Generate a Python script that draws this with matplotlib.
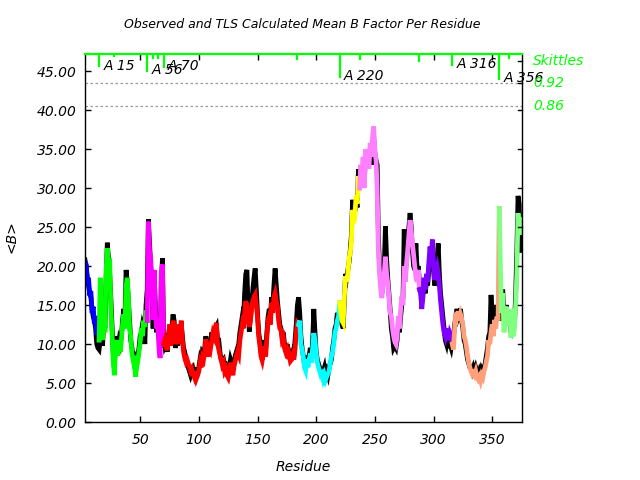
import numpy as np
import matplotlib
matplotlib.use("Agg")
import matplotlib.pyplot as plt
import matplotlib.transforms as mtransforms

# residues 3..374
res_first = 3
res_last = 374

# TLS calculated mean B per residue (coloured line)
tls_b = [
    20.5, 20.2, 18.0, 18.5, 16.2, 16.8, 14.0, 14.8, 12.6, 13.6,
    11.2, 12.0, 10.5, 18.5, 13.0, 10.5, 14.0, 11.5, 19.5, 22.3,
    20.0, 21.0, 15.0, 11.5, 8.0, 6.0, 9.5, 10.5, 8.5, 10.2,
    9.0, 10.5, 12.5, 13.8, 12.0, 17.4, 18.5, 16.0, 12.0, 11.0,
    8.8, 8.0, 8.5, 5.8, 7.0, 7.8, 9.0, 10.2, 12.0, 11.0,
    13.0, 12.2, 14.3, 13.0, 25.7, 22.0, 21.0, 17.0, 13.1, 19.5,
    14.0, 12.0, 12.8, 9.5, 8.2, 19.0, 20.2, 10.0, 10.5, 9.8,
    9.2, 10.3, 12.5, 9.8, 11.0, 13.0, 12.0, 10.0, 11.2, 10.0,
    12.5, 11.0, 13.0, 10.5, 9.0, 8.2, 7.7, 8.0, 7.5, 7.0,
    6.5, 6.8, 6.2, 5.8, 6.5, 5.6, 6.0, 6.5, 7.5, 7.0,
    8.3, 8.0, 9.0, 10.6, 9.8, 8.4, 10.0, 9.5, 10.5, 11.4,
    11.0, 12.2, 12.7, 10.0, 9.3, 8.6, 8.0, 7.3, 7.6, 6.5,
    6.8, 6.0, 5.7, 6.5, 7.6, 6.8, 6.0, 7.1, 7.8, 8.5,
    9.0, 8.6, 10.5, 11.5, 12.5, 12.0, 14.0, 15.5, 15.0, 13.5,
    12.2, 13.0, 14.5, 15.5, 16.0, 16.3, 15.0, 13.5, 11.0, 9.8,
    8.4, 7.9, 8.8, 9.7, 8.4, 11.0, 13.0, 13.5, 12.5, 15.3,
    14.0, 16.0, 16.5, 15.5, 14.8, 13.0, 12.0, 11.8, 10.5, 10.8,
    9.5, 9.0, 9.3, 8.1, 8.6, 7.8, 8.0, 8.5, 8.0, 9.3,
    11.4, 12.7, 12.5, 13.0, 10.0, 9.3, 8.4, 7.0, 6.6, 8.0,
    7.0, 8.0, 8.8, 7.6, 9.5, 11.4, 10.5, 8.8, 7.6, 7.0,
    6.5, 6.0, 6.2, 5.5, 6.0, 5.4, 5.8, 6.2, 6.5, 7.6,
    8.4, 9.0, 10.1, 11.5, 12.0, 13.0, 13.5, 15.3, 14.0, 13.0,
    12.7, 16.0, 18.7, 18.0, 19.0, 21.0, 21.7, 23.0, 27.2, 25.5,
    26.5, 29.0, 28.0, 31.5, 30.0, 33.0, 32.0, 34.0, 30.0, 35.0,
    33.0, 34.0, 32.5, 35.8, 34.0, 36.5, 37.9, 35.0, 33.6, 29.8,
    22.1, 19.1, 17.0, 15.9, 17.5, 19.0, 21.2, 19.0, 17.8, 16.0,
    14.0, 13.6, 12.0, 11.0, 10.3, 10.0, 11.0, 13.6, 12.0, 14.5,
    16.1, 15.0, 20.0, 18.0, 20.3, 22.0, 24.0, 25.9, 24.5, 23.0,
    21.5, 20.0, 18.5, 18.0, 19.5, 17.0, 16.5, 14.5, 16.0, 18.5,
    17.0, 19.0, 18.0, 20.5, 22.5, 21.0, 23.4, 20.0, 18.2, 19.5,
    20.0, 19.0, 17.5, 15.5, 14.0, 12.5, 11.5, 11.0, 12.0, 11.4,
    10.5, 11.4, 11.0, 10.0, 9.3, 12.0, 14.0, 13.5, 14.2, 13.0,
    13.8, 13.3, 12.5, 11.0, 10.5, 9.7, 8.5, 7.6, 7.0, 6.5,
    6.1, 6.3, 6.0, 6.5, 5.8, 5.5, 5.8, 5.3, 6.0, 5.7,
    6.5, 7.0, 7.8, 8.5, 10.5, 10.0, 11.5, 12.5, 11.0, 13.1,
    12.0, 13.5, 13.0, 27.4, 20.0, 14.0, 16.5, 11.5, 12.5, 14.8,
    13.0, 12.5, 14.0, 10.8, 14.5, 11.0, 12.0, 15.0, 19.0, 26.8,
    24.0, 26.0,
]

# observed mean B per residue (black line)
obs_b = [
    20.8, 20.0, 18.5, 17.5, 16.5, 16.0, 14.5, 13.5, 13.0, 12.0,
    10.0, 9.5, 9.3, 10.5, 12.0, 9.8, 13.0, 12.0, 18.5, 23.0,
    21.0, 19.0, 16.0, 12.5, 9.0, 7.0, 10.0, 11.0, 9.5, 10.5,
    10.0, 11.0, 13.0, 14.5, 13.0, 19.5, 18.0, 15.5, 13.0, 10.5,
    9.5, 8.5, 9.0, 6.5, 7.5, 8.5, 9.5, 11.0, 11.5, 12.5,
    12.0, 10.0, 15.0, 17.0, 26.0, 23.0, 20.0, 18.0, 12.0, 18.5,
    15.0, 11.5, 13.5, 11.0, 9.5, 18.0, 21.0, 11.0, 9.8, 10.2,
    9.0, 11.0, 12.0, 10.5, 12.0, 13.8, 13.0, 9.5, 10.5, 9.8,
    11.8, 10.0, 12.5, 11.0, 9.5, 9.0, 8.0, 7.5, 7.0, 6.5,
    6.0, 6.5, 6.8, 6.0, 7.0, 6.0, 6.5, 7.0, 8.0, 7.5,
    9.0, 8.8, 9.5, 11.0, 10.0, 9.0, 10.5, 10.0, 11.5, 11.0,
    11.5, 12.0, 12.3, 10.5, 10.5, 9.0, 8.0, 7.8, 8.0, 7.0,
    7.2, 6.5, 6.2, 7.0, 8.0, 7.5, 6.8, 7.5, 8.5, 9.0,
    9.5, 10.0, 11.5, 12.5, 13.5, 13.0, 16.5, 19.0, 19.5, 14.5,
    11.6, 13.5, 15.0, 17.0, 18.5, 19.7, 17.0, 14.0, 11.5, 10.5,
    9.0, 8.8, 9.5, 10.5, 9.5, 11.5, 13.5, 14.5, 13.5, 16.0,
    15.0, 17.5, 19.7, 17.5, 15.5, 14.0, 12.5, 12.0, 11.0, 11.5,
    10.0, 9.0, 10.0, 8.5, 9.0, 8.5, 8.5, 9.0, 8.5, 10.5,
    12.5, 15.0, 16.0, 14.0, 11.0, 9.5, 8.5, 7.5, 7.0, 8.5,
    7.5, 8.5, 9.5, 8.0, 10.5, 14.5, 11.5, 9.0, 8.0, 7.5,
    7.0, 6.5, 6.5, 6.5, 7.0, 6.0, 6.5, 6.0, 7.0, 7.5,
    8.0, 9.5, 10.5, 12.0, 12.5, 14.0, 13.0, 14.5, 13.5, 12.5,
    12.0, 15.5, 19.0, 18.5, 19.5, 20.5, 22.0, 24.0, 28.5, 26.0,
    27.0, 28.0, 27.5, 32.4, 31.0, 32.5, 31.5, 33.0, 30.5, 34.5,
    32.5, 33.5, 33.0, 34.5, 33.0, 35.0, 36.5, 34.5, 33.6, 33.0,
    24.0, 20.0, 18.0, 16.5, 18.5, 20.0, 25.1, 21.0, 18.5, 16.5,
    14.5, 12.0, 11.0, 9.5, 9.8, 9.5, 10.5, 12.5, 11.5, 13.5,
    15.0, 16.0, 24.7, 19.0, 21.0, 23.0, 25.0, 26.8, 25.0, 22.0,
    20.0, 19.5, 22.9, 19.5, 20.0, 18.0, 17.0, 15.5, 16.5, 17.5,
    16.5, 18.0, 17.5, 19.5, 21.0, 20.0, 22.0, 19.5, 17.5, 18.5,
    21.0, 22.9, 19.0, 16.5, 15.0, 13.5, 12.0, 10.5, 10.0, 11.0,
    9.5, 10.0, 9.5, 10.5, 11.0, 12.5, 13.5, 14.5, 13.5, 14.0,
    14.5, 13.0, 12.0, 10.5, 10.0, 9.0, 8.0, 7.5, 7.0, 7.0,
    6.5, 7.0, 6.5, 7.0, 6.5, 6.0, 6.5, 6.0, 6.8, 6.5,
    7.0, 7.5, 8.5, 9.5, 11.0, 11.5, 16.3, 13.5, 12.0, 14.0,
    15.0, 14.0, 14.5, 13.0, 15.0, 16.5, 17.0, 13.5, 14.0, 15.0,
    13.5, 13.0, 13.5, 11.5, 13.0, 12.0, 12.5, 16.5, 22.0, 29.0,
    28.0, 22.0,
]

# TLS segments: first residue of each segment and its colour
seg_starts = [3, 15, 56, 70, 185, 220, 237, 288, 316, 356]
seg_colors = ["#0000ff", "#00ff00", "#ff00ff", "#ff0000", "#00ffff",
              "#ffff00", "#ff80ff", "#8000ff", "#ffa07a", "#80ff80"]

# skittles markers along the top
boundary_res = [15, 56, 70, 220, 316, 356]
boundary_low = [45.6, 45.0, 45.5, 44.3, 45.8, 44.0]
boundary_text = ["A 15", "A 56", "A 70", "A 220", "A 316", "A 356"]
small_res = [27.5, 61, 65, 184, 237, 287.5, 364]
small_low = [46.9, 46.7, 46.7, 46.6, 46.6, 46.3, 46.7]
skittle_levels = [43.46, 40.5]
skittle_labels = ["0.92", "0.86"]

green = "#00ff00"
ital = dict(fontstyle="italic", family="DejaVu Sans")

res = np.arange(res_first, res_last + 1)
tls_b = np.array(tls_b)
obs_b = np.array(obs_b)

fig = plt.figure(figsize=(6.4, 4.8), dpi=100)
ax = fig.add_axes([85 / 640, 1 - 422 / 480, 437 / 640, 368 / 480])

# observed first, TLS segments on top
ax.plot(res, obs_b, color="black", lw=3.4, solid_joinstyle="miter")
bounds = seg_starts + [res_last]
for i, c in enumerate(seg_colors):
    m = (res >= bounds[i]) & (res <= bounds[i + 1])
    ax.plot(res[m], tls_b[m], color=c, lw=3.4, solid_joinstyle="miter")

ymax = 47.2
for lvl in skittle_levels:
    ax.axhline(lvl, color="#999999", ls=(0, (2, 2)), lw=0.9)

for r, lo, t in zip(boundary_res, boundary_low, boundary_text):
    ax.plot([r, r], [lo, ymax], color=green, lw=1.6, clip_on=False)
    ax.text(r + 3.6, lo + 0.1, t, va="center", ha="left", fontsize=10, **ital)
for r, lo in zip(small_res, small_low):
    ax.plot([r, r], [lo, ymax], color=green, lw=1.6)

# right side skittles labels
trans = mtransforms.blended_transform_factory(ax.transAxes, ax.transData)
ax.text(1.025, 46.3, "Skittles", transform=trans, color=green,
        fontsize=10, va="center", ha="left", **ital)
for lvl, lab in zip(skittle_levels, skittle_labels):
    ax.text(1.025, lvl, lab, transform=trans, color=green,
            fontsize=10, va="center", ha="left", **ital)

ax.set_xlim(3, 375.4)
ax.set_ylim(0, ymax)
ax.set_xticks([50, 100, 150, 200, 250, 300, 350])
ax.set_yticks(np.arange(0, 46, 5))
ax.set_yticklabels(["%.2f" % v for v in np.arange(0, 46, 5)])
ax.tick_params(direction="in", length=4, width=1, top=True, right=False,
               labelsize=10, pad=8)
ax.tick_params(axis="y", pad=6)
for lab in ax.get_xticklabels() + ax.get_yticklabels():
    lab.set_fontstyle("italic")

# right axis ticks
for v in list(range(5, 41, 5)) + [43.46, 46.3]:
    ax.plot([1, 0.991], [v, v], color="black", lw=1, transform=trans,
            clip_on=False)

ax.spines["top"].set_color(green)
ax.spines["top"].set_linewidth(1.6)
for s in ["left", "right", "bottom"]:
    ax.spines[s].set_linewidth(1)

fig.text(302 / 640, 1 - 25 / 480,
         "Observed and TLS Calculated Mean B Factor Per Residue",
         ha="center", va="center", fontsize=9, **ital)
fig.text(303.5 / 640, 1 - 467 / 480, "Residue", ha="center", va="center",
         fontsize=10, **ital)
fig.text(12 / 640, 1 - 237 / 480, "<B>", ha="center", va="center",
         rotation=90, fontsize=10, **ital)

fig.savefig("out.png", dpi=100)
